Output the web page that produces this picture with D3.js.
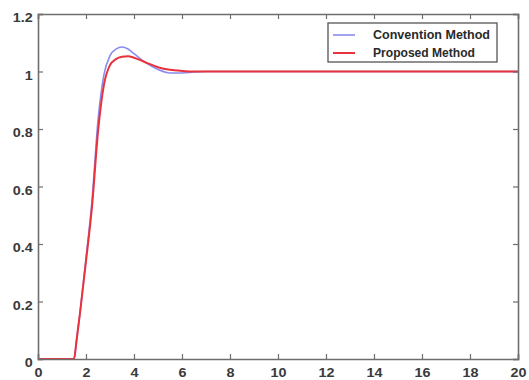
<!DOCTYPE html>
<html><head><meta charset="utf-8">
<script src="https://cdn.jsdelivr.net/npm/d3@7"></script>
<style>html,body{margin:0;padding:0;background:#fff;} svg{display:block;}</style>
</head><body>
<script>
const xTicks = [0,2,4,6,8,10,12,14,16,18,20];
const yTicks = [0,0.2,0.4,0.6,0.8,1,1.2];
const yTickLabels = ["0","0.2","0.4","0.6","0.8","1","1.2"];
const seriesNames = ["Convention Method","Proposed Method"];
const timeConv = [0,1.5,1.6,1.75,2.0,2.25,2.5,2.75,3.0,3.25,3.5,3.75,4.0,4.5,5.0,5.5,6.0,6.5,7.0,8,10,12,14,16,18,20];
const valConv  = [0,0,0.06,0.16,0.35,0.55,0.83,0.99,1.055,1.078,1.085,1.078,1.062,1.03,1.007,0.995,0.995,0.998,1.0,1,1,1,1,1,1,1];
const timeProp = [0,1.5,1.6,1.75,2.0,2.25,2.5,2.75,3.0,3.25,3.5,3.75,4.0,4.5,5.0,5.5,6.0,6.5,7.0,8,10,12,14,16,18,20];
const valProp  = [0,0,0.06,0.16,0.34,0.53,0.79,0.955,1.022,1.043,1.051,1.053,1.048,1.031,1.015,1.006,1.002,1.0,1.0,1,1,1,1,1,1,1];

const W=529,H=380;
const m={l:38,r:11,t:14,b:21};
const svg=d3.select("body").append("svg").attr("width",W).attr("height",H);
const x=d3.scaleLinear().domain([0,20]).range([m.l,W-m.r]);
const y=d3.scaleLinear().domain([0,1.2]).range([H-m.b,m.t]);
const axisColor="#6e6e6e", txt="#3a3a3a";
const font="'Liberation Sans', Arial, sans-serif";
const sx=1.15;

const line=d3.line().x(d=>x(d[0])).y(d=>y(d[1])).curve(d3.curveMonotoneX);
const conv=timeConv.map((t,i)=>[t,valConv[i]]);
const prop=timeProp.map((t,i)=>[t,valProp[i]]);
svg.append("path").attr("d",line(conv)).attr("fill","none").attr("stroke","#8a8cf0").attr("stroke-width",1.6);
svg.append("path").attr("d",line(prop)).attr("fill","none").attr("stroke","#e8323c").attr("stroke-width",2);

const tl=5;
const gBottom=svg.append("g").attr("transform",`translate(0,${y(0)})`)
  .call(d3.axisBottom(x).tickValues(xTicks).tickSize(-tl).tickPadding(9).tickFormat(d3.format("d")));
const gTop=svg.append("g").attr("transform",`translate(0,${y(1.2)})`)
  .call(d3.axisTop(x).tickValues(xTicks).tickSize(-tl).tickFormat(""));
const gLeft=svg.append("g").attr("transform",`translate(${x(0)},0)`)
  .call(d3.axisLeft(y).tickValues(yTicks).tickSize(-tl).tickPadding(4.5).tickFormat((d,i)=>yTickLabels[i]));
const gRight=svg.append("g").attr("transform",`translate(${x(20)},0)`)
  .call(d3.axisRight(y).tickValues(yTicks).tickSize(-tl).tickFormat(""));
[gBottom,gTop,gLeft,gRight].forEach(g=>{
  g.select(".domain").attr("stroke",axisColor).attr("stroke-width",1.6);
  g.selectAll(".tick line").attr("stroke",axisColor).attr("stroke-width",1.2);
  g.selectAll("text").attr("fill",txt).attr("font-family",font).attr("font-weight","bold").attr("font-size",12.5)
    .attr("transform",`scale(${sx},1)`);
});
gBottom.selectAll(".tick text").attr("dy","0.71em");
gLeft.selectAll(".tick text").attr("dy","0.6em");

const lg=svg.append("g");
lg.append("rect").attr("x",328).attr("y",23).attr("width",169).attr("height",39)
  .attr("fill","#fff").attr("stroke","#555").attr("stroke-width",1.3);
const lcol=["#8a8cf0","#e8323c"], lw=[1.6,2];
const lLen=[117,102];
seriesNames.forEach((n,i)=>{
  const yy=35+i*18;
  lg.append("line").attr("x1",333).attr("x2",355).attr("y1",yy).attr("y2",yy)
    .attr("stroke",lcol[i]).attr("stroke-width",lw[i]);
  lg.append("text").attr("x",373).attr("y",yy).attr("dy","0.35em").text(n)
    .attr("textLength",lLen[i]).attr("lengthAdjust","spacingAndGlyphs")
    .attr("font-family",font).attr("font-weight","bold").attr("font-size",12).attr("fill","#2a2a2a");
});
</script>
</body></html>
